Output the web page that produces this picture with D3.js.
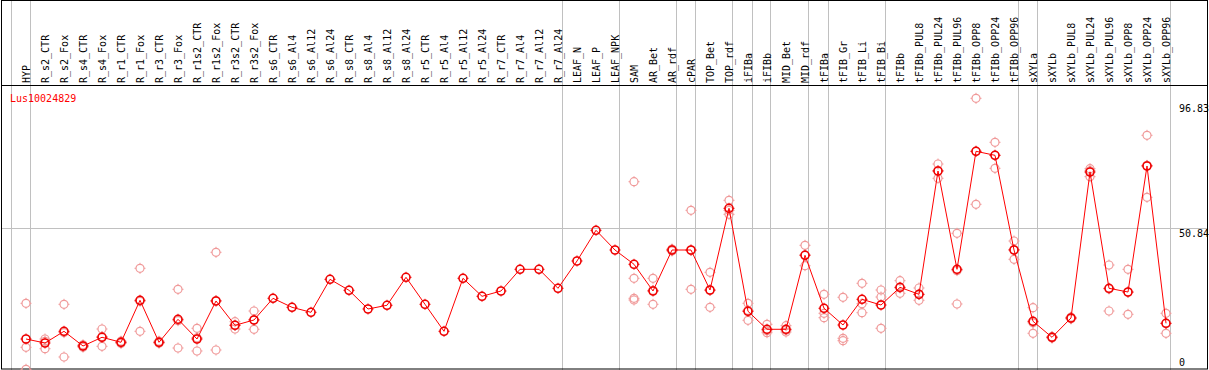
<!DOCTYPE html>
<html lang="en">
<head>
<meta charset="UTF-8" />
<title>Lus10024829</title>
<script src="https://cdn.jsdelivr.net/npm/d3@7"></script>
<style>
  body { margin: 0; background: #fff; }
  svg { display: block; font-family: "DejaVu Sans Mono", monospace; }
</style>
</head>
<body>
<script>
// sample names (columns, left to right)
const samples = ["HYP","R_s2_CTR","R_s2_Fox","R_s4_CTR","R_s4_Fox","R_r1_CTR","R_r1_Fox","R_r3_CTR","R_r3_Fox",
  "R_r1s2_CTR","R_r1s2_Fox","R_r3s2_CTR","R_r3s2_Fox","R_s6_CTR","R_s6_Al4","R_s6_Al12","R_s6_Al24",
  "R_s8_CTR","R_s8_Al4","R_s8_Al12","R_s8_Al24","R_r5_CTR","R_r5_Al4","R_r5_Al12","R_r5_Al24",
  "R_r7_CTR","R_r7_Al4","R_r7_Al12","R_r7_Al24","LEAF_N","LEAF_P","LEAF_NPK","SAM","AR_Bet","AR_rdf",
  "cPAR","TOP_Bet","TOP_rdf","iFIBa","iFIBb","MID_Bet","MID_rdf","tFIBa","tFIB_Gr","tFIB_Li","tFIB_Bi",
  "tFIBb","tFIBb_PUL8","tFIBb_PUL24","tFIBb_PUL96","tFIBb_OPP8","tFIBb_OPP24","tFIBb_OPP96",
  "sXYLa","sXYLb","sXYLb_PUL8","sXYLb_PUL24","sXYLb_PUL96","sXYLb_OPP8","sXYLb_OPP24","sXYLb_OPP96"];

// mean expression per sample
const means = [11.67,10.26,14.40,9.20,12.28,10.51,25.37,10.51,18.64,11.67,25.12,16.52,18.40,26.07,22.89,
  21.12,32.79,28.90,22.29,23.60,33.50,23.95,14.40,33.15,26.78,28.66,36.33,36.33,29.61,39.27,50.13,
  43.16,38.10,28.66,43.16,43.16,29.01,57.91,21.47,15.11,15.11,41.29,22.54,16.63,25.72,23.70,
  29.96,27.49,71.11,36.33,78.08,76.66,43.16,17.94,12.28,19.10,70.75,29.61,28.30,72.88,17.23];

// replicate values (empty where none are drawn)
const reps = [
  [24.30,8.74,0.96],[11.67,8.24,10.87],[23.95,5.31,13.94],[8.8,9.6,9.2],[15.21,9.09,12.54],
  [10.9,10.1,10.5],[36.69,14.40,25.02],[10.9,10.2,10.4],[29.26,8.49,18.17],[15.46,7.43,12.12],
  [42.35,7.78,25.23],[17.79,15.21,16.56],[21.58,15.11,18.51],
  [],[],[],[],[],[],[],[],[],[],[],[],[],[],[],[],[],[],[],
  [67.32,33.15,26.07,25.47],[33.15,23.95,28.88],[43.5,42.8,43.2],[57.20,29.26,43.02],
  [35.27,22.89,28.87],[60.74,55.79,57.2],[24.30,18.29,21.82],[16.87,13.90,14.56],
  [16.38,14.15,14.8],[44.82,37.61,41.44],[27.49,20.77,19.21],[26.43,11.92,11.07],
  [31.38,24.16,20.98],[29.01,26.53,15.46],[32.30,27.84,29.74],[29.72,25.37,27.38],
  [73.58,68.53,71.22],[49.07,24.06,35.86],[96.83,59.33,78.08],[81.26,72.06,76.66],
  [46.34,39.87,43.3],[22.75,13.69,17.4],[12.0,12.5,12.3],[19.4,18.8,19.1],
  [71.92,69.1,71.2],[37.85,21.58,29.4],[36.33,20.41,28.2],[83.74,61.80,73.1],[20.77,13.69,17.2]
];

// first sample of each group (grey separators)
const groupStarts = ["HYP","R_s2_CTR","LEAF_N","SAM","cPAR","TOP_Bet","iFIBa","iFIBb","MID_Bet",
  "tFIBa","tFIB_Gr","tFIBb","sXYLa","sXYLb"];

const yTicks = [0, 50.84, 96.83];
const geneName = "Lus10024829";

const W = 1209, H = 370;
const svg = d3.select("body").append("svg").attr("width", W).attr("height", H);
svg.append("rect").attr("width", W).attr("height", H).attr("fill", "#fff");

var x = d3.scaleLinear().domain([0, samples.length - 1]).range([26, 1166]);
var y = d3.scaleLinear().domain([0, 96.83]).range([372, 98.3]);
const xi = s => x(samples.indexOf(s));

// grey separators
var seps = groupStarts.map(s => Math.round(xi(s) - 15.5) + 0.5);
seps.push(Math.round(x(samples.length) - 15) + 0.5);
svg.append("g").selectAll("line").data(seps).enter().append("line")
  .attr("x1", d => d).attr("x2", d => d).attr("y1", 0).attr("y2", H)
  .attr("stroke", "#c0c0c0").attr("stroke-width", 1);

// horizontal grid at middle tick
svg.append("line")
  .attr("x1", 1).attr("x2", 1208).attr("y1", Math.round(y(50.84)) + 0.5).attr("y2", Math.round(y(50.84)) + 0.5)
  .attr("stroke", "#c0c0c0");

// frame
svg.append("rect").attr("x", 1.5).attr("y", 0.5).attr("width", 1206).attr("height", 368.5)
  .attr("fill", "none").attr("stroke", "#000");
svg.append("line").attr("x1", 1).attr("x2", 1208).attr("y1", 85.5).attr("y2", 85.5).attr("stroke", "#000");

// column labels
svg.append("g").selectAll("text").data(samples).enter().append("text")
  .attr("transform", (d, i) => "translate(" + (x(i) + 4) + ",83) rotate(-90)")
  .attr("font-size", "10px")
  .attr("fill", "#000")
  .text(d => d);

// title
svg.append("text").attr("x", 10).attr("y", 102).attr("font-size", "10px").attr("fill", "red").text(geneName);

// right axis labels
svg.append("g").selectAll("text").data(yTicks).enter().append("text")
  .attr("x", d => d == 0 ? 1179 : 1209)
  .attr("text-anchor", d => d == 0 ? "start" : "end")
  .attr("y", d => Math.min(Math.max(y(d) + 8.5, 112), 366))
  .attr("font-size", "10px")
  .text(d => d);

function marker(g, cx, cy, color, sw) {
  g.append("circle").attr("cx", cx).attr("cy", cy).attr("r", 4)
    .attr("fill", "none").attr("stroke", color).attr("stroke-width", sw);
  [[0, -1], [0, 1], [-1, 0], [1, 0]].forEach(function(v) {
    g.append("line")
      .attr("x1", cx + v[0] * 4).attr("y1", cy + v[1] * 4)
      .attr("x2", cx + v[0] * 5.5).attr("y2", cy + v[1] * 5.5)
      .attr("stroke", color).attr("stroke-width", 1);
  });
}

// replicates
var repG = svg.append("g");
reps.forEach(function(r, i) {
  r.forEach(function(v) { marker(repG, x(i), y(v), "#f09a9a", 1.2); });
});

// mean line
svg.append("path").datum(means)
  .attr("d", d3.line().x((d, i) => x(i)).y(d => y(d)))
  .attr("fill", "none").attr("stroke", "red").attr("stroke-width", 1);

var meanG = svg.append("g");
means.forEach(function(v, i) { marker(meanG, x(i), y(v), "#ee0000", 1.6); });
</script>
</body>
</html>
